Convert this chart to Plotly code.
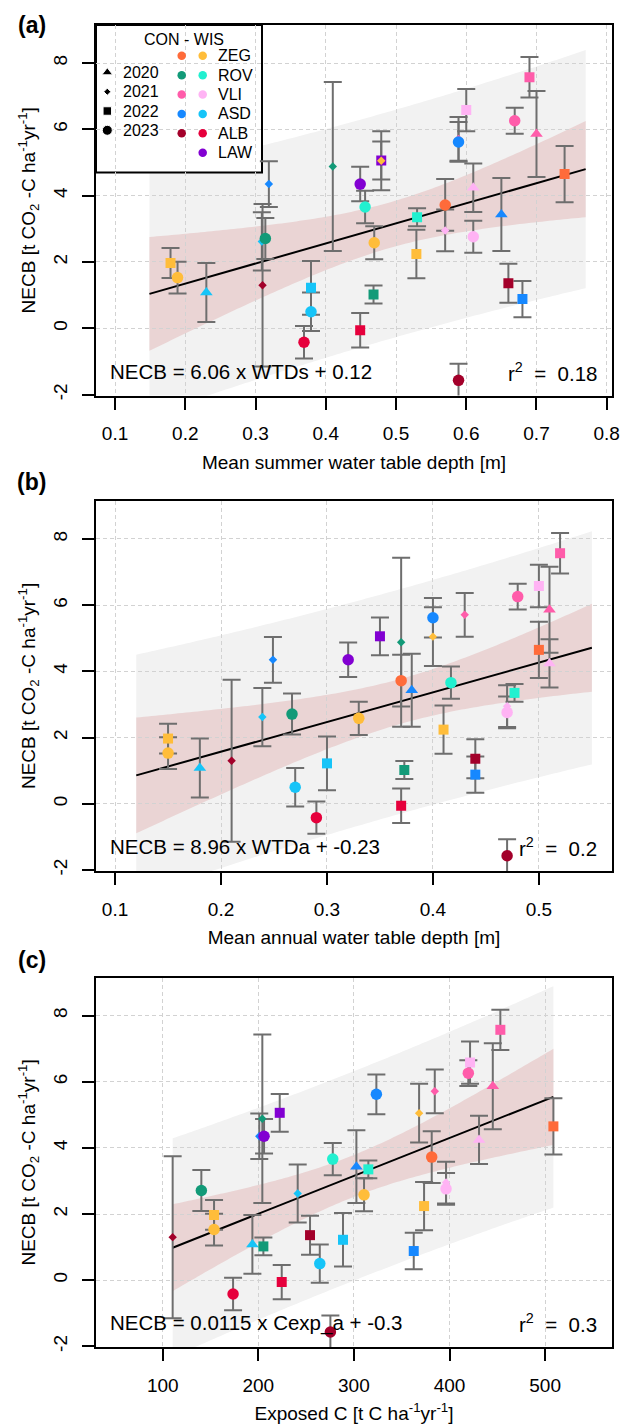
import numpy as np
import plotly.graph_objects as go

# ---------------- data ----------------
site = ["ZEG", "ZEG", "ASD", "ASD", "ASD", "ROV", "ALB", "ROV", "ASD", "ASD",
        "ALB", "LAW", "ROV", "ZEG", "ROV", "ALB", "LAW", "ZEG", "ROV", "ZEG",
        "ZEG", "VLI", "VLI", "ASD", "VLI", "VLI", "VLI", "ALB", "ASD", "VLI",
        "VLI", "VLI", "ALB", "ASD", "ZEG"]
treatment = ["WIS", "WIS", "WIS", "CON", "WIS", "CON", "CON", "CON", "WIS", "WIS",
             "WIS", "WIS", "WIS", "WIS", "CON", "WIS", "WIS", "WIS", "WIS", "WIS",
             "CON", "WIS", "CON", "CON", "WIS", "WIS", "WIS", "CON", "CON", "CON",
             "CON", "CON", "CON", "CON", "CON"]
year = [2022, 2023, 2020, 2021, 2021, 2023, 2021, 2021, 2022, 2023,
        2023, 2023, 2023, 2023, 2022, 2022, 2022, 2021, 2022, 2022,
        2023, 2021, 2021, 2023, 2022, 2020, 2023, 2023, 2020, 2023,
        2022, 2020, 2022, 2022, 2022]
necb = [1.97, 1.53, 1.08, 4.35, 2.62, 2.71, 1.30, 4.88, 1.22, 0.50,
        -0.42, 4.35, 3.66, 2.58, 1.02, -0.06, 5.06, 5.05, 3.35, 2.24,
        3.72, 2.95, 5.71, 5.62, 6.58, 4.24, 2.76, -1.57, 3.43, 6.26,
        7.57, 5.86, 1.36, 0.88, 4.65]
necb_err = [0.45, 0.48, 0.89, 0.69, 0.88, 0.62, 2.45, 2.55, 0.81, 0.58,
            0.49, 0.52, 0.49, 0.50, 0.27, 0.52, 0.57, 0.89, 0.27, 0.73,
            0.78, 0.63, 0.66, 0.60, 0.64, 0.73, 0.48, 0.50, 1.10, 0.39,
            0.61, 1.30, 0.59, 0.55, 0.85]
wtd_summer = [0.179, 0.189, 0.230, 0.319, 0.309, 0.314, 0.310, 0.410, 0.379, 0.379,
              0.369, 0.449, 0.456, 0.469, 0.468, 0.449, 0.479, 0.479, 0.530, 0.529,
              0.570, 0.570, 0.589, 0.589, 0.600, 0.610, 0.610, 0.589, 0.650, 0.669,
              0.690, 0.700, 0.660, 0.680, 0.740]
wtd_annual = [0.150, 0.150, 0.180, 0.249, 0.239, 0.267, 0.210, 0.370, 0.300, 0.270,
              0.290, 0.320, 0.417, 0.330, 0.373, 0.370, 0.350, 0.400, 0.477, 0.410,
              0.370, 0.470, 0.430, 0.400, 0.500, 0.510, 0.470, 0.470, 0.380, 0.480,
              0.520, 0.510, 0.440, 0.440, 0.500]
c_exposed = [153.7, 153.7, 193.8, 201.0, 241.2, 140.4, 110.4, 204.2, 288.6, 264.3,
             173.6, 206.0, 277.9, 310.6, 205.3, 224.5, 222.4, 368.2, 315.1, 373.4,
             381.4, 396.4, 384.6, 323.5, 421.5, 430.9, 396.4, 275.4, 302.6, 419.7,
             453.2, 445.3, 254.1, 362.6, 508.7]

legend_sites = ["ZEG", "ROV", "VLI", "ASD", "ALB", "LAW"]
legend_years = [2020, 2021, 2022, 2023]
equations = ["NECB = 6.06 x WTDs + 0.12", "NECB = 8.96 x WTDa + -0.23",
             "NECB = 0.0115 x Cexp_a + -0.3"]
r2_labels = ["0.18", "0.2", "0.3"]
panel_labels = ["(a)", "(b)", "(c)"]
x_titles = ["Mean summer water table depth [m]", "Mean annual water table depth [m]",
            "Exposed C [t C ha<sup>-1</sup>yr<sup>-1</sup>]"]
y_title = "NECB [t CO<sub>2</sub> -C ha<sup>-1</sup>yr<sup>-1</sup>]"
x_ticks = [[0.1, 0.2, 0.3, 0.4, 0.5, 0.6, 0.7, 0.8],
           [0.1, 0.2, 0.3, 0.4, 0.5],
           [100, 200, 300, 400, 500]]
y_ticks = [-2, 0, 2, 4, 6, 8]
y_ticktext = ["-2", "0", "2", "4", "6", "8"]

# ---------------- styling ----------------
colors = {("ZEG", "CON"): "#FF6B3A", ("ZEG", "WIS"): "#FFBD3A",
          ("ROV", "CON"): "#129A78", ("ROV", "WIS"): "#22F0D0",
          ("VLI", "CON"): "#FF5CAA", ("VLI", "WIS"): "#FFB3F4",
          ("ASD", "CON"): "#1688FF", ("ASD", "WIS"): "#16C4F8",
          ("ALB", "CON"): "#A3002A", ("ALB", "WIS"): "#E6003C",
          ("LAW", "WIS"): "#8200D2"}
symbols = {2020: "triangle-up", 2021: "diamond", 2022: "square", 2023: "circle"}
msizes = {2020: 11, 2021: 6.5, 2022: 10, 2023: 11.5}
leg_sizes = {2020: 9.5, 2021: 5.5, 2022: 8.5, 2023: 10}

FONT = "Liberation Sans, Arial, sans-serif"
W, H = 622, 1426
ML, MR = 96, 10
top_px = [25, 502.7, 981]
bot_px = [397, 874, 1352]
label_px = [25, 484, 963]
x_ranges = [[0.0729, 0.8075], [0.082, 0.569], [30.2, 570]]
y_range = [-2.03, 9.15]
band_pad = [0.03, 0.03, 0.0]
T_CI = 2.0345   # t(0.975, df = 33): 95 % confidence band
T_PI = 1.6924   # t(0.95, df = 33): 90 % prediction band

GREY_BAND = "#F2F2F2"
PINK_BAND = "#EAD4D4"
ERR_COL = "#6E6E6E"

xs_all = [wtd_summer, wtd_annual, c_exposed]
yv = np.array(necb)
pt_colors = [colors[(s, t)] for s, t in zip(site, treatment)]
pt_symbols = [symbols[y] for y in year]
pt_sizes = [msizes[y] for y in year]

fig = go.Figure()
shapes = []
annotations = []

for i in range(3):
    xa = "x" if i == 0 else f"x{i+1}"
    ya = "y" if i == 0 else f"y{i+1}"
    xv = np.array(xs_all[i])
    n = len(xv)
    slope, icpt = np.polyfit(xv, yv, 1)
    resid = yv - (slope * xv + icpt)
    s = np.sqrt(np.sum(resid ** 2) / (n - 2))
    xbar = xv.mean()
    sxx = np.sum((xv - xbar) ** 2)
    xg = np.linspace(xv.min() - band_pad[i], xv.max() + band_pad[i], 120)
    yg = slope * xg + icpt
    se_fit = s * np.sqrt(1.0 / n + (xg - xbar) ** 2 / sxx)
    ci = T_CI * se_fit
    pi = T_PI * np.sqrt(s ** 2 + se_fit ** 2)

    def band_path(lo, hi):
        pts = [f"{a:.5f},{b:.5f}" for a, b in zip(xg, hi)]
        pts += [f"{a:.5f},{b:.5f}" for a, b in zip(xg[::-1], lo[::-1])]
        return "M" + " L".join(pts) + " Z"

    shapes.append(dict(type="path", xref=xa, yref=ya, layer="below",
                       path=band_path(yg - pi, yg + pi), fillcolor=GREY_BAND,
                       line=dict(width=0)))
    shapes.append(dict(type="path", xref=xa, yref=ya, layer="below",
                       path=band_path(yg - ci, yg + ci), fillcolor=PINK_BAND,
                       line=dict(width=0)))

    fig.add_trace(go.Scatter(x=xg, y=yg, mode="lines", xaxis=xa, yaxis=ya,
                             line=dict(color="black", width=2), showlegend=False,
                             hoverinfo="skip"))
    fig.add_trace(go.Scatter(x=xv, y=yv, mode="markers", xaxis=xa, yaxis=ya,
                             marker=dict(size=2, color="rgba(0,0,0,0)"),
                             error_y=dict(type="data", array=necb_err, symmetric=True,
                                          color=ERR_COL, thickness=2, width=9),
                             showlegend=False, hoverinfo="skip"))
    fig.add_trace(go.Scatter(x=xv, y=yv, mode="markers", xaxis=xa, yaxis=ya,
                             marker=dict(size=pt_sizes, color=pt_colors, opacity=1,
                                         symbol=pt_symbols, line=dict(width=0)),
                             showlegend=False))

    dom = [1 - bot_px[i] / H, 1 - top_px[i] / H]
    axis_common = dict(showline=True, mirror=True, linecolor="black", linewidth=2,
                       ticks="outside", ticklen=12, tickwidth=1.5, tickcolor="black",
                       showgrid=True, gridcolor="#D2D2D2", gridwidth=1,
                       griddash="4px,3px", zeroline=False,
                       tickfont=dict(family=FONT, size=19, color="black"))
    xkey = "xaxis" if i == 0 else f"xaxis{i+1}"
    ykey = "yaxis" if i == 0 else f"yaxis{i+1}"
    fig.update_layout({
        xkey: dict(axis_common, domain=[0, 1], anchor=ya, range=x_ranges[i],
                   tickvals=x_ticks[i], ticklabelstandoff=8,
                   title=dict(text=x_titles[i], standoff=12,
                              font=dict(family=FONT, size=19, color="black"))),
        ykey: dict(axis_common, domain=dom, anchor=xa, range=y_range,
                   tickvals=y_ticks, ticktext=y_ticktext, tickangle=-90,
                   ticklabelstandoff=7,
                   title=dict(text=y_title, standoff=10,
                              font=dict(family=FONT, size=19, color="black"))),
    })

    xd = xa + " domain"
    yd = ya + " domain"
    annotations.append(dict(xref=xd, yref=yd, x=0.024, y=0.065, xanchor="left",
                            yanchor="middle", showarrow=False, text=equations[i],
                            font=dict(family=FONT, size=20.5, color="black")))
    annotations.append(dict(xref=xd, yref=yd, x=0.975, y=0.065, xanchor="right",
                            yanchor="middle", showarrow=False,
                            text="r<sup>2</sup>\u00a0\u00a0=\u00a0\u00a0" + r2_labels[i],
                            font=dict(family=FONT, size=20.5, color="black")))
    annotations.append(dict(xref="paper", yref="paper", x=(31.5 - ML) / (W - ML - MR),
                            y=1 - label_px[i] / H, xanchor="center", yanchor="middle",
                            showarrow=False, text="<b>" + panel_labels[i] + "</b>",
                            font=dict(family=FONT, size=23, color="black")))

# ---------------- legend (drawn inside panel a) ----------------
panel_h = bot_px[0] - top_px[0]
panel_w = W - ML - MR
def fx(px):
    return (px - ML) / panel_w
def fy(py):
    return 1 - (py - top_px[0]) / panel_h

xr, yr = x_ranges[0], y_range
shapes.append(dict(type="rect", xref="x", yref="y", layer="below",
                   x0=xr[0], x1=xr[0] + fx(262) * (xr[1] - xr[0]),
                   y0=yr[0] + fy(173) * (yr[1] - yr[0]), y1=yr[1],
                   fillcolor="white", line=dict(color="black", width=2)))

leg_font = dict(family=FONT, size=16, color="black")
annotations.append(dict(xref="x domain", yref="y domain", x=fx(184), y=fy(40),
                        xanchor="center", yanchor="middle", showarrow=False,
                        text="CON - WIS", font=leg_font))
yr_step = 19.35
yr_y = [fy(72.7 + k * yr_step) for k in range(len(legend_years))]
fig.add_trace(go.Scatter(x=[fx(107.3)] * len(legend_years), y=yr_y, mode="markers",
                         xaxis="x4", yaxis="y4", showlegend=False, hoverinfo="skip",
                         marker=dict(color="black", opacity=1,
                                     symbol=[symbols[y] for y in legend_years],
                                     size=[leg_sizes[y] for y in legend_years])))
for k, yrv in enumerate(legend_years):
    annotations.append(dict(xref="x domain", yref="y domain", x=fx(121), y=yr_y[k],
                            xanchor="left", yanchor="middle", showarrow=False,
                            text=str(yrv), font=leg_font))
st_step = 19.45
st_y = [fy(56 + k * st_step) for k in range(len(legend_sites))]
dot_x, dot_y, dot_c = [], [], []
for k, st in enumerate(legend_sites):
    for trt, px in (("CON", 181.7), ("WIS", 202.7)):
        if (st, trt) in colors:
            dot_x.append(fx(px))
            dot_y.append(st_y[k])
            dot_c.append(colors[(st, trt)])
    annotations.append(dict(xref="x domain", yref="y domain", x=fx(216), y=st_y[k],
                            xanchor="left", yanchor="middle", showarrow=False,
                            text=st, font=leg_font))
fig.add_trace(go.Scatter(x=dot_x, y=dot_y, mode="markers", xaxis="x4", yaxis="y4",
                         showlegend=False, hoverinfo="skip",
                         marker=dict(color=dot_c, symbol="circle", size=8.5, opacity=1)))

fig.update_layout(
    xaxis4=dict(overlaying="x", anchor="y4", range=[0, 1], visible=False),
    yaxis4=dict(overlaying="y", anchor="x4", range=[0, 1], visible=False),
    width=W, height=H, margin=dict(l=ML, r=MR, t=0, b=0),
    paper_bgcolor="white", plot_bgcolor="rgba(0,0,0,0)",
    shapes=shapes, annotations=annotations, showlegend=False,
    font=dict(family=FONT, size=19, color="black"),
)

fig.write_html("out.html")
